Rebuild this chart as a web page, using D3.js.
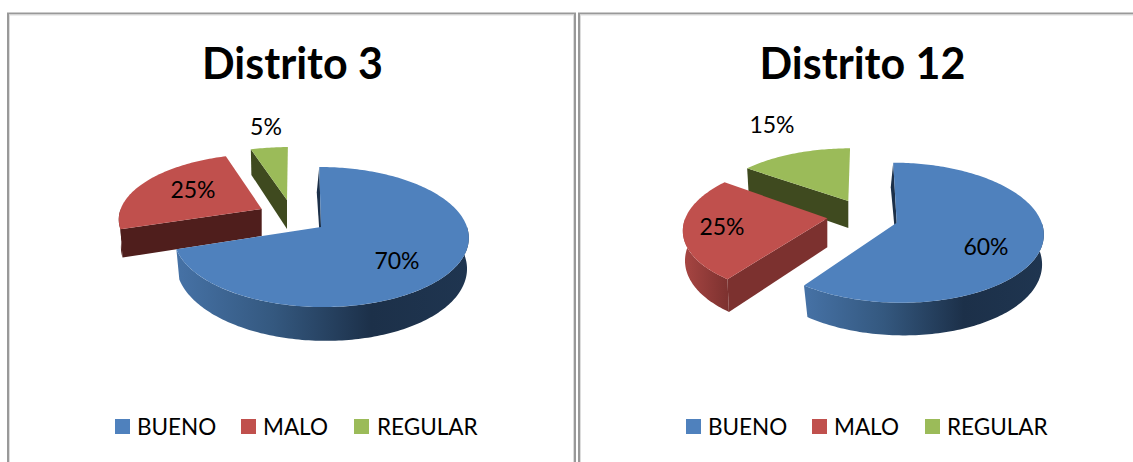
<!DOCTYPE html>
<html><head><meta charset="utf-8">
<style>html,body{margin:0;padding:0;background:#fff}svg{display:block}text{font-family:Lato,"Open Sans",sans-serif;fill:#000}</style>
<script src="https://cdn.jsdelivr.net/npm/d3@7"></script></head><body>
<script>
const categories = ["BUENO", "MALO", "REGULAR"];
const distrito3 = [70, 25, 5];
const distrito12 = [60, 25, 15];
const labels3 = ["70%", "25%", "5%"];
const labels12 = ["60%", "25%", "15%"];
const colors = ["#4f81bd", "#c0504d", "#9bbb59"];

const W = 1133, H = 462, persp = 1 / 7;
const svg = d3.select("body").append("svg").attr("width", W).attr("height", H);
const defs = svg.append("defs");

function grad(id, stops) {
  const g = defs.append("linearGradient").attr("id", id).attr("x1", 0).attr("x2", 1).attr("y1", 0).attr("y2", 0);
  stops.forEach((c, i) => g.append("stop").attr("offset", i / (stops.length - 1)).attr("stop-color", c));
  return `url(#${id})`;
}
const blueRim = grad("blueRim", ["#4672a6", "#34587f", "#1c3049", "#1f3550"]);
const redRim = grad("redRim", ["#a84643", "#7c312f"]);

const charts = [
  { title: "Distrito 3", values: distrito3, labels: labels3, titleX: 292.5, titleY: 79,
    panel: [8, 13.5, 567, 460],
    legend: [[115, 137], [241, 263], [354, 377]],
    geo: [
      { ax: 321, ay: 227, R: 146, Rs: 68.6, s: 2, d: 29, lean: 2.5, rim: blueRim, face: "#1c3049", lx: 397, ly: 261 },
      { ax: 261.7, ay: 209, R: 141, Rs: 63, s: -3, d: 27, lean: 0, rim: "#4f1e1c", face: "#4f1e1c", lx: 193, ly: 190 },
      { ax: 287, ay: 200, R: 136, Rs: 60.5, s: -1, d: 29, lean: 0, rim: "#3f4a1f", face: "#3f4a1f", lx: 266, ly: 127 }
    ] },
  { title: "Distrito 12", values: distrito12, labels: labels12, titleX: 862.5, titleY: 79,
    panel: [579, 13.5, 570, 460],
    legend: [[686, 708], [812, 834], [925, 947]],
    geo: [
      { ax: 896.7, ay: 222.7, R: 145, Rs: 68.6, s: 4, d: 28, lean: 2.5, rim: blueRim, face: "#1c3049", lx: 986, ly: 247 },
      { ax: 827.3, ay: 218.3, R: 142, Rs: 66.5, s: -6, d: 29, lean: 0, rim: redRim, face: "#7c312f", lx: 722, ly: 227 },
      { ax: 848.3, ay: 201, R: 137, Rs: 60.2, s: -2, d: 27, lean: 0, rim: "#3f4a1f", face: "#3f4a1f", lx: 772, ly: 125 }
    ] }
];

const pie = d3.pie().sort(null);
const line = d3.line();

function project(g, t, r, bottom) {
  const X = r * Math.sin(t), Z = r * Math.cos(t), p = 1 / (1 + Z * persp);
  let x = g.ax + X * g.R * p - g.s * Z * p;
  let y = g.ay - Z * g.Rs * p;
  if (bottom) { y += g.d * p; x = g.ax + (x - g.ax) * 0.985 - g.lean * Z; }
  return [x, y];
}
const arcAngles = (a, b) => {
  const n = Math.max(2, Math.ceil((b - a) / 0.02));
  return d3.range(n + 1).map(i => a + (b - a) * i / n);
};

charts.forEach(c => {
  const root = svg.append("g");
  root.append("rect").attr("x", c.panel[0]).attr("y", c.panel[1]).attr("width", c.panel[2]).attr("height", c.panel[3])
    .attr("fill", "#fff").attr("stroke", "#999999").attr("stroke-width", 2);
  root.append("rect").attr("x", c.panel[0] + 1.5).attr("y", c.panel[1] + 1.5).attr("width", c.panel[2] - 3).attr("height", c.panel[3])
    .attr("fill", "none").attr("stroke", "#dcdcdc").attr("stroke-width", 1);

  root.append("text").attr("x", c.titleX).attr("y", c.titleY).attr("text-anchor", "middle")
    .attr("font-size", 43).attr("font-weight", 700).text(c.title);

  const slices = pie(c.values);
  // paint from the back slice to the front one
  slices.map((s, i) => ({ s, i })).reverse().forEach(({ s, i }) => {
    const g = c.geo[i], a0 = s.startAngle, a1 = s.endAngle;
    const G = root.append("g");
    // outer wall (only the front-facing half of the rim)
    const f0 = Math.max(a0, Math.PI / 2), f1 = Math.min(a1, Math.PI * 1.5);
    if (f1 > f0) {
      const top = arcAngles(f0, f1).map(t => project(g, t, 1, false));
      const bot = arcAngles(f0, f1).reverse().map(t => project(g, t, 1, true));
      G.append("path").attr("d", line(top.concat(bot)) + "Z").attr("fill", g.rim);
    }
    // radial wall at the start of the slice
    G.append("path").attr("d", line([
      project(g, a0, 0, false), project(g, a0, 1, false),
      project(g, a0, 1, true), project(g, a0, 0, true)
    ]) + "Z").attr("fill", g.face);
    // top surface
    G.append("path").attr("d", line([[g.ax, g.ay]].concat(arcAngles(a0, a1).map(t => project(g, t, 1, false)))) + "Z")
      .attr("fill", colors[i]);
  });

  slices.forEach((s, i) => {
    const g = c.geo[i];
    root.append("text").attr("x", g.lx).attr("y", g.ly + 8).attr("text-anchor", "middle")
      .attr("font-size", 23).text(c.labels[i]);
  });

  categories.forEach((name, i) => {
    const [sx, tx] = c.legend[i];
    root.append("rect").attr("x", sx).attr("y", 419).attr("width", 15).attr("height", 15).attr("fill", colors[i]);
    root.append("text").attr("x", tx).attr("y", 435).attr("font-size", 22.5).text(name);
  });
});
</script></body></html>
